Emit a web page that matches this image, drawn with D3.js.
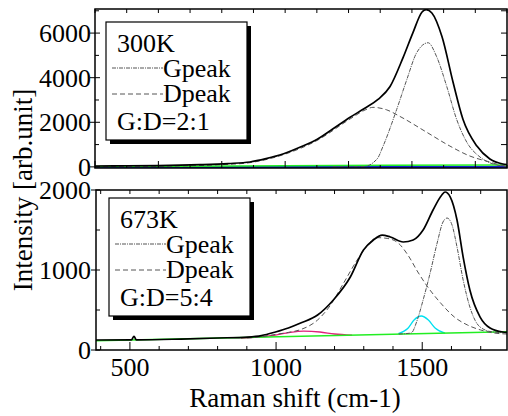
<!DOCTYPE html>
<meta charset="utf-8">
<script src="https://d3js.org/d3.v7.min.js"></script>
<body style="margin:0;background:#fff">
<svg width="508" height="416"></svg>
<script>
// ---- 300K panel (top) ----
var total300 = [[400,40],[500,50],[600,60],[731,100],[820,150],[889,220],[940,370],[993,575],[1050,900],[1100,1230],[1150,1700],[1205,2224],[1250,2620],[1293,3026],[1331,3605],[1372,4898],[1403,6011],[1432,6947],[1445,7050],[1463,6903],[1495,5833],[1530,3783],[1561,2135],[1605,932],[1646,352],[1687,129],[1700,100]];
var dpeak300 = [[400,10],[700,50],[800,100],[889,190],[993,540],[1100,1180],[1205,2150],[1252,2550],[1277,2670],[1320,2560],[1362,2264],[1447,1550],[1520,932],[1583,486],[1646,218],[1687,60],[1700,40]];
var gpeak300 = [[1150,0],[1246,10],[1290,352],[1309,930],[1352,2580],[1384,3920],[1415,5120],[1451,5566],[1478,4940],[1510,3600],[1541,2135],[1573,1110],[1615,440],[1656,130],[1700,20]];
var base300 = [[400,20],[1000,50],[1700,90]];
var blue300 = [[400,-5],[1700,-5]];

// ---- 673K panel (bottom) ----
var total673 = [[384,125],[505,127],[514,172],[522,127],[674,137],[800,150],[903,162],[950,180],[998,225],[1042,275],[1084,337],[1142,437],[1196,625],[1254,912],[1299,1250],[1333,1375],[1363,1437],[1391,1412],[1435,1350],[1469,1375],[1503,1500],[1537,1750],[1567,1937],[1578,1975],[1596,1912],[1619,1625],[1640,1162],[1663,750],[1698,412],[1732,275],[1776,225],[1790,220]];
var dpeak673 = [[900,150],[950,165],[998,195],[1042,220],[1084,255],[1142,375],[1186,560],[1230,830],[1280,1140],[1320,1340],[1343,1405],[1380,1395],[1418,1337],[1451,1187],[1485,975],[1519,787],[1563,587],[1610,412],[1655,312],[1700,250],[1746,212],[1790,200]];
var gpeak673 = [[1420,200],[1462,212],[1483,375],[1503,625],[1527,962],[1551,1337],[1571,1600],[1585,1650],[1602,1562],[1619,1287],[1640,875],[1663,537],[1698,287],[1742,225],[1790,215]];
var cyan673 = [[1418,205],[1452,275],[1472,375],[1497,425],[1521,375],[1544,275],[1578,210]];
var pink673 = [[880,150],[981,178],[1040,215],[1094,235],[1150,225],[1200,200],[1260,185]];
var base673 = [[384,115],[1790,228]];

var yTicksTop = [0, 2000, 4000, 6000];
var yTicksBot = [0, 1000, 2000];
var xTicksBot = [500, 1000, 1500];

var FONT = 'Liberation Serif';
var svg = d3.select('svg');

var xTop = d3.scaleLinear().domain([400, 1700]).range([95, 507]);
var yTop = d3.scaleLinear().domain([-50, 7080]).range([168, 9]);
var xBot = d3.scaleLinear().domain([384, 1790]).range([96, 507]);
var yBot = d3.scaleLinear().domain([0, 2000]).range([350, 190]);

function panel(id, x, y) {
    var x0 = x.range()[0], x1 = x.range()[1], y0 = y.range()[1], y1 = y.range()[0];
    svg.append('clipPath').attr('id', id).append('rect')
        .attr('x', x0).attr('y', y0).attr('width', x1 - x0).attr('height', y1 - y0);
    return svg.append('g').attr('clip-path', 'url(#' + id + ')');
}

function curve(g, x, y, data, color, width, dash) {
    var line = d3.line().x(function (d) { return x(d[0]); }).y(function (d) { return y(d[1]); })
        .curve(d3.curveMonotoneX);
    g.append('path').datum(data).attr('d', line).attr('fill', 'none')
        .attr('stroke', color).attr('stroke-width', width)
        .attr('stroke-dasharray', dash || null);
}

function ticks(vals, fn) {
    vals.forEach(function (v) {
        var t = fn(v);
        svg.append('line').attr('x1', t[0]).attr('y1', t[1]).attr('x2', t[2]).attr('y2', t[3])
            .attr('stroke', '#000').attr('stroke-width', 1);
    });
}

function frame(x, y) {
    var x0 = x.range()[0], x1 = x.range()[1], y0 = y.range()[1], y1 = y.range()[0];
    svg.append('rect').attr('x', x0).attr('y', y0).attr('width', x1 - x0).attr('height', y1 - y0)
        .attr('fill', 'none').attr('stroke', '#000').attr('stroke-width', 1.5);
}

// top panel curves
var gT = panel('clipTop', xTop, yTop);
curve(gT, xTop, yTop, blue300, '#1020d0', 2);
curve(gT, xTop, yTop, base300, '#22ee22', 1.5);
curve(gT, xTop, yTop, dpeak300, '#555', 1, '5,3');
curve(gT, xTop, yTop, gpeak300, '#555', 1, '4,1,1,1');
curve(gT, xTop, yTop, total300, '#000', 1.7);

// bottom panel curves
var gB = panel('clipBot', xBot, yBot);
curve(gB, xBot, yBot, pink673, '#e0207a', 1.3);
curve(gB, xBot, yBot, cyan673, '#00e0f0', 1.3);
curve(gB, xBot, yBot, base673, '#22ee22', 1.5);
curve(gB, xBot, yBot, dpeak673, '#555', 1, '5,3');
curve(gB, xBot, yBot, gpeak673, '#555', 1, '4,1,1,1');
curve(gB, xBot, yBot, total673, '#000', 1.7);

// top panel ticks
ticks(d3.range(0, 7001, 1000), function (v) {
    var major = yTicksTop.indexOf(v) >= 0;
    return major ? [90, yTop(v), 100, yTop(v)] : [95, yTop(v), 99, yTop(v)];
});
ticks(d3.range(1000, 7001, 1000), function (v) { return [507, yTop(v), 501, yTop(v)]; });
ticks(d3.range(400, 1701, 100), function (v) { return [xTop(v), 9, xTop(v), 13]; });
ticks(d3.range(400, 1701, 100), function (v) {
    return [xTop(v), 168, xTop(v), v % 200 === 0 ? 161 : 165];
});

// bottom panel ticks
ticks(d3.range(0, 2001, 500), function (v) {
    var major = yTicksBot.indexOf(v) >= 0;
    return major ? [91, yBot(v), 100, yBot(v)] : [96, yBot(v), 100, yBot(v)];
});
ticks([500, 1000, 1500], function (v) { return [507, yBot(v), 502, yBot(v)]; });
ticks(d3.range(400, 1701, 100), function (v) { return [xBot(v), 190, xBot(v), 194]; });
ticks(d3.range(400, 1701, 100), function (v) {
    return [xBot(v), 350, xBot(v), xTicksBot.indexOf(v) >= 0 ? 342 : 346];
});

frame(xTop, yTop);
frame(xBot, yBot);

// tick labels
function ylabels(vals, y) {
    svg.append('g').selectAll('text').data(vals).join('text')
        .attr('x', 91).attr('y', function (d) { return y(d); }).attr('dy', '0.34em')
        .attr('text-anchor', 'end').attr('font-family', FONT).attr('font-size', 26)
        .text(function (d) { return d; });
}
ylabels(yTicksTop, yTop);
ylabels(yTicksBot, yBot);

svg.append('g').selectAll('text').data(xTicksBot).join('text')
    .attr('x', function (d) { return xBot(d); }).attr('y', 376)
    .attr('text-anchor', 'middle').attr('font-family', FONT).attr('font-size', 26)
    .text(function (d) { return d; });

svg.append('text').attr('x', 295).attr('y', 407).attr('text-anchor', 'middle')
    .attr('font-family', FONT).attr('font-size', 27).text('Raman shift (cm-1)');
svg.append('text').attr('transform', 'translate(32,190) rotate(-90)').attr('text-anchor', 'middle')
    .attr('font-family', FONT).attr('font-size', 27).text('Intensity [arb.unit]');

// legends
function legend(bx, by, title, ratio) {
    var g = svg.append('g');
    g.append('rect').attr('x', bx + 4).attr('y', by + 4).attr('width', 141).attr('height', 118).attr('fill', '#000');
    g.append('rect').attr('x', bx).attr('y', by).attr('width', 141).attr('height', 118)
        .attr('fill', '#fff').attr('stroke', '#000').attr('stroke-width', 1.2);
    var tx = function (s, x, y) {
        g.append('text').attr('x', x).attr('y', y).attr('font-family', FONT).attr('font-size', 26).text(s);
    };
    tx(title, bx + 11, by + 30);
    g.append('line').attr('x1', bx + 6).attr('x2', bx + 57).attr('y1', by + 46).attr('y2', by + 46)
        .attr('stroke', '#555').attr('stroke-dasharray', '4,1,1,1');
    tx('Gpeak', bx + 57, by + 55);
    g.append('line').attr('x1', bx + 6).attr('x2', bx + 57).attr('y1', by + 72).attr('y2', by + 72)
        .attr('stroke', '#555').attr('stroke-dasharray', '5,3');
    tx('Dpeak', bx + 57, by + 80);
    tx(ratio, bx + 11, by + 108);
}
legend(106, 22, '300K', 'G:D=2:1');
legend(109, 198, '673K', 'G:D=5:4');
</script>
</body>
